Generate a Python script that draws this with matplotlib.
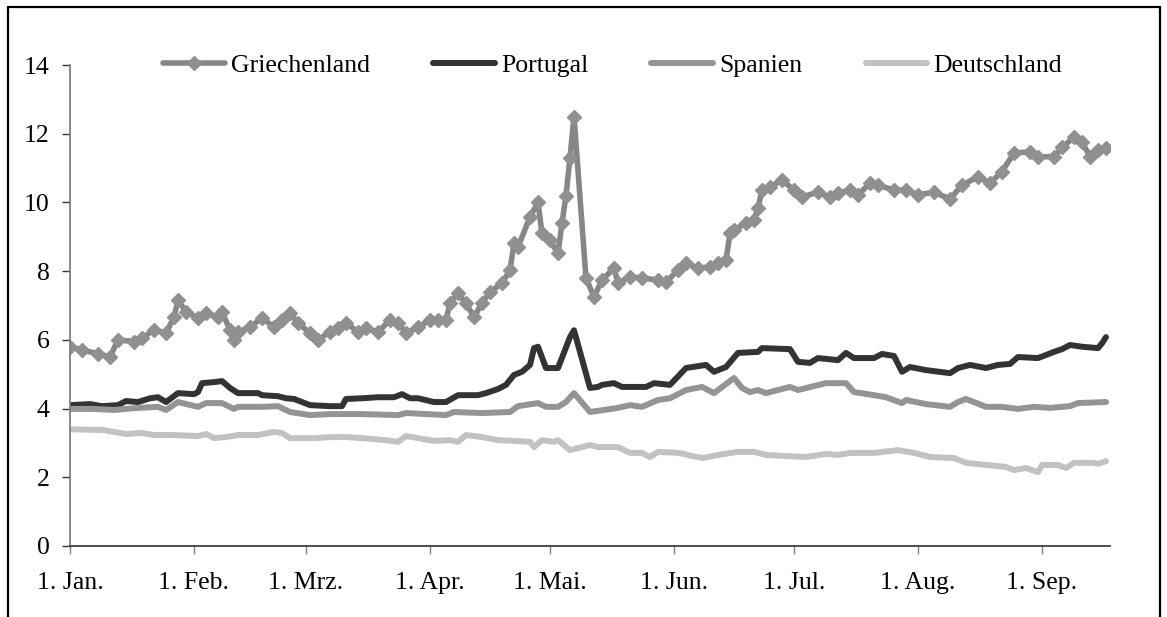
import numpy as np
import matplotlib
matplotlib.use("Agg")
import matplotlib.pyplot as plt
from matplotlib.patches import Rectangle

# ---- data (days since 1 Jan 2010, yield in %) ----
gr_day = [0, 3, 7, 10, 12, 16, 18, 21, 24, 26, 27, 29, 32, 34, 37, 38, 40, 41, 42, 45,
          48, 51, 53, 55, 57, 60, 62, 65, 67, 69, 72, 74, 77, 80, 82, 84, 87, 90, 92, 94,
          95, 97, 99, 101, 103, 105, 108, 110, 111, 112, 115, 117, 118, 120, 122, 123, 124, 125, 126, 129,
          131, 133, 136, 137, 140, 143, 147, 149, 152, 154, 157, 160, 162, 164, 165, 166, 169, 171, 172, 173,
          175, 178, 181, 183, 187, 190, 192, 195, 197, 200, 202, 206, 209, 212, 216, 220, 223, 227, 230, 233,
          236, 240, 242, 246, 248, 251, 253, 255, 257, 259]
gr_val = [5.8, 5.7, 5.6, 5.5, 6.0, 5.95, 6.05, 6.29, 6.2, 6.66, 7.16, 6.81, 6.64, 6.78, 6.66, 6.81, 6.29, 6.0, 6.23, 6.37,
          6.64, 6.37, 6.58, 6.78, 6.49, 6.2, 6.0, 6.23, 6.34, 6.49, 6.23, 6.34, 6.23, 6.58, 6.49, 6.2, 6.37, 6.58, 6.58, 6.58,
          7.07, 7.36, 7.07, 6.66, 7.07, 7.39, 7.65, 8.03, 8.82, 8.7, 9.58, 10.0, 9.1, 8.9, 8.52, 9.4, 10.2, 11.3, 12.5, 7.8,
          7.25, 7.74, 8.09, 7.65, 7.83, 7.8, 7.74, 7.68, 8.03, 8.24, 8.09, 8.12, 8.24, 8.32, 9.1, 9.2, 9.4, 9.49, 9.84, 10.36,
          10.45, 10.65, 10.36, 10.16, 10.3, 10.16, 10.27, 10.36, 10.22, 10.56, 10.5, 10.36, 10.36, 10.22, 10.3, 10.1, 10.5, 10.75, 10.56, 10.9,
          11.44, 11.47, 11.33, 11.33, 11.6, 11.9, 11.76, 11.33, 11.53, 11.58]

pt_day = [0, 5, 8, 12, 14, 17, 20, 22, 24, 27, 31, 32, 33, 36, 38, 40, 42, 47, 48, 52,
          54, 56, 60, 65, 68, 69, 73, 77, 81, 83, 85, 87, 91, 94, 97, 102, 104, 107, 109, 111,
          113, 115, 116, 117, 119, 122, 125, 126, 130, 132, 133, 136, 138, 144, 146, 150, 154, 159, 161, 164,
          167, 172, 173, 180, 182, 185, 187, 192, 194, 196, 201, 203, 206, 208, 210, 214, 220, 222, 225, 229,
          232, 235, 237, 242, 246, 248, 250, 253, 257, 258, 259]
pt_val = [4.1, 4.13, 4.07, 4.1, 4.22, 4.19, 4.3, 4.33, 4.19, 4.45, 4.42, 4.48, 4.74, 4.77, 4.8, 4.6, 4.45, 4.45, 4.39, 4.36,
          4.3, 4.28, 4.1, 4.07, 4.07, 4.28, 4.3, 4.33, 4.33, 4.42, 4.3, 4.3, 4.19, 4.19, 4.39, 4.39, 4.45, 4.57, 4.69, 4.98,
          5.07, 5.27, 5.76, 5.8, 5.18, 5.18, 6.08, 6.28, 4.6, 4.63, 4.69, 4.74, 4.63, 4.63, 4.74, 4.69, 5.18, 5.27, 5.07, 5.21,
          5.62, 5.65, 5.76, 5.73, 5.36, 5.33, 5.47, 5.41, 5.62, 5.47, 5.47, 5.59, 5.53, 5.07, 5.21, 5.12, 5.03, 5.18, 5.27, 5.18,
          5.27, 5.3, 5.5, 5.47, 5.65, 5.73, 5.85, 5.8, 5.76, 5.9, 6.08]

es_day = [0, 6, 11, 17, 22, 24, 27, 32, 34, 38, 41, 42, 48, 52, 55, 60, 65, 73, 82, 84,
          94, 96, 103, 110, 112, 117, 119, 122, 124, 126, 130, 137, 140, 143, 147, 150, 154, 158, 161, 166,
          168, 170, 172, 174, 180, 182, 189, 194, 196, 201, 204, 208, 209, 214, 220, 222, 224, 229, 233, 237,
          241, 245, 250, 252, 259]
es_val = [3.99, 3.99, 3.96, 4.02, 4.05, 3.96, 4.19, 4.05, 4.16, 4.16, 3.99, 4.05, 4.05, 4.07, 3.9, 3.81, 3.84, 3.84, 3.81, 3.87,
          3.81, 3.9, 3.87, 3.9, 4.07, 4.16, 4.05, 4.05, 4.19, 4.45, 3.9, 4.02, 4.1, 4.05, 4.25, 4.3, 4.54, 4.63, 4.45, 4.89,
          4.6, 4.48, 4.54, 4.45, 4.63, 4.54, 4.74, 4.74, 4.48, 4.39, 4.33, 4.16, 4.25, 4.13, 4.05, 4.19, 4.28, 4.05, 4.05, 3.99,
          4.05, 4.02, 4.07, 4.16, 4.19]

de_day = [0, 6, 8, 14, 18, 21, 26, 32, 34, 36, 39, 42, 47, 51, 53, 55, 61, 65, 69, 73,
          79, 82, 84, 87, 91, 95, 97, 99, 103, 107, 111, 115, 116, 118, 121, 122, 125, 127, 130, 132,
          137, 140, 143, 145, 147, 152, 158, 162, 167, 171, 174, 184, 189, 192, 195, 201, 207, 211, 215, 221,
          224, 229, 234, 236, 239, 242, 243, 247, 249, 251, 256, 257, 259]
de_val = [3.4, 3.38, 3.38, 3.26, 3.29, 3.23, 3.23, 3.2, 3.26, 3.14, 3.17, 3.23, 3.23, 3.32, 3.29, 3.14, 3.14, 3.17, 3.17, 3.14,
          3.08, 3.03, 3.2, 3.14, 3.06, 3.08, 3.03, 3.23, 3.17, 3.08, 3.06, 3.03, 2.88, 3.08, 3.03, 3.08, 2.79, 2.85, 2.94, 2.88,
          2.88, 2.71, 2.71, 2.59, 2.74, 2.71, 2.56, 2.65, 2.74, 2.74, 2.65, 2.59, 2.68, 2.65, 2.71, 2.71, 2.79, 2.71, 2.59, 2.56,
          2.42, 2.36, 2.3, 2.21, 2.27, 2.15, 2.36, 2.36, 2.27, 2.42, 2.42, 2.39, 2.47]

series_names = ["Griechenland", "Portugal", "Spanien", "Deutschland"]
month_labels = ["1. Jan.", "1. Feb.", "1. Mrz.", "1. Apr.", "1. Mai.", "1. Jun.", "1. Jul.", "1. Aug.", "1. Sep."]
y_ticks = [0, 2, 4, 6, 8, 10, 12, 14]

# ---- plotting ----
plt.rcParams['font.family'] = ['Liberation Serif', 'DejaVu Serif']
W, H = 1167, 617
fig = plt.figure(figsize=(W / 100, H / 100), dpi=100)
ax = fig.add_axes([70 / W, 1 - 546 / H, (1110 - 70) / W, (546 - 65) / H])

start = np.datetime64('2010-01-01')
def to_dates(days):
    return start + np.array(days, dtype='timedelta64[D]')

ax.plot(to_dates(gr_day), gr_val, color='#868686', lw=4.0, marker='D', ms=7.5,
        markerfacecolor='#909090', markeredgecolor='#909090', label=series_names[0],
        solid_capstyle='round', solid_joinstyle='round')
ax.plot(to_dates(pt_day), pt_val, color='#333333', lw=4.3, label=series_names[1],
        solid_capstyle='round', solid_joinstyle='round')
ax.plot(to_dates(es_day), es_val, color='#949494', lw=4.3, label=series_names[2],
        solid_capstyle='round', solid_joinstyle='round')
ax.plot(to_dates(de_day), de_val, color='#c2c2c2', lw=4.3, label=series_names[3],
        solid_capstyle='round', solid_joinstyle='round')

ax.set_ylim(0, 14)
ax.set_yticks(y_ticks)
ax.set_yticklabels([str(v) for v in y_ticks])
ax.set_xlim(start, start + np.timedelta64(260, 'D'))
month_starts = [np.datetime64('2010-%02d-01' % m) for m in range(1, 10)]
ax.set_xticks(month_starts)
ax.set_xticklabels(month_labels)

for s in ['top', 'right']:
    ax.spines[s].set_visible(False)
ax.spines['left'].set_color('#808080')
ax.spines['left'].set_linewidth(1.3)
ax.spines['bottom'].set_color('#404040')
ax.spines['bottom'].set_linewidth(1.3)
ax.tick_params(axis='y', direction='out', length=6, width=1, color='#333333',
               labelsize=18.5, pad=8.5)
ax.tick_params(axis='x', direction='out', length=6, width=1, color='#808080',
               labelsize=18.5, pad=12.5)

leg = ax.legend(loc='center left', bbox_to_anchor=(163 / W, 1 - 66 / H),
                bbox_transform=fig.transFigure, ncol=4, frameon=False,
                fontsize=18.5, handlelength=2.4, handletextpad=0.25,
                columnspacing=2.45, borderpad=0, borderaxespad=0, numpoints=1)

# outer frame
fig.patches.append(Rectangle((8 / W, -0.05), (1160 - 8) / W, 1.05 - 7 / H,
                             transform=fig.transFigure, fill=False,
                             edgecolor='black', linewidth=1.6))

fig.savefig('out.png', dpi=100)
